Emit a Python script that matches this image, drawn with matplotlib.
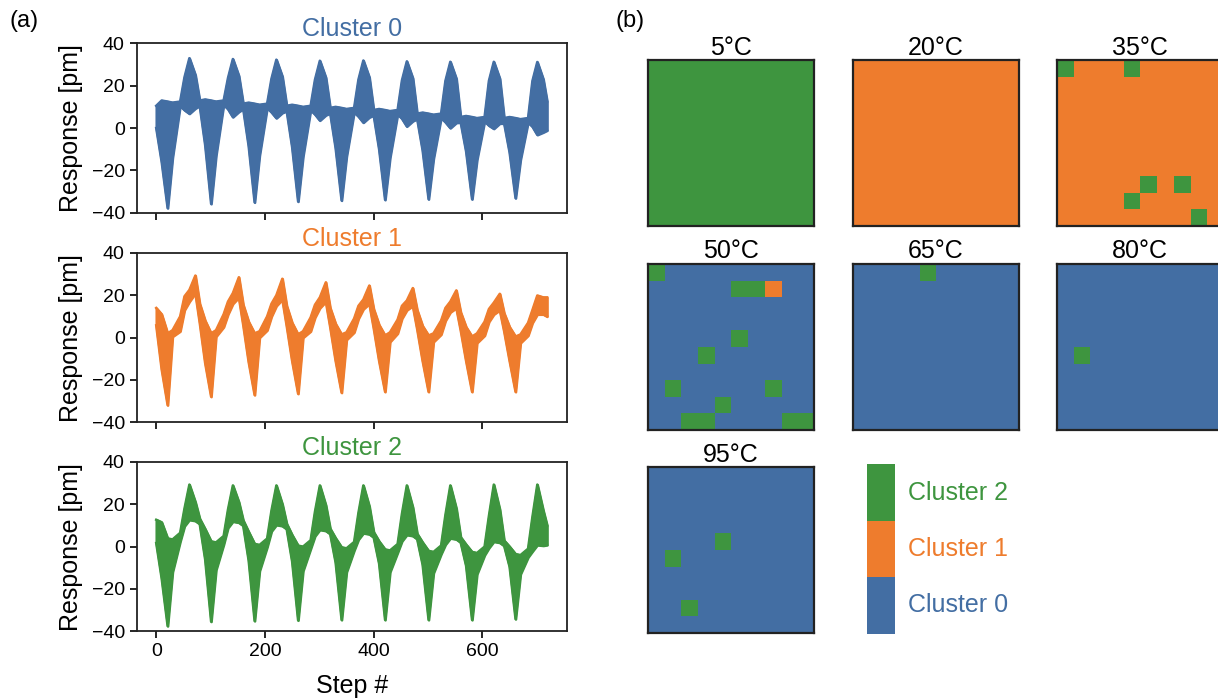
import numpy as np
import matplotlib
matplotlib.use("Agg")
import matplotlib.pyplot as plt
from matplotlib.colors import ListedColormap

plt.rcParams['font.family'] = ['Liberation Sans', 'DejaVu Sans']

C0 = '#436ea3'
C1 = '#ee7c2d'
C2 = '#3e953f'
colors = [C0, C1, C2]

# key steps of the response envelope
steps = [0, 10, 21, 30, 44, 52, 61, 72,
         80, 90, 101, 110, 124, 132, 141, 152,
         160, 170, 181, 190, 204, 212, 221, 232,
         240, 250, 261, 270, 284, 292, 301, 312,
         320, 330, 341, 350, 364, 372, 381, 392,
         400, 410, 421, 430, 444, 452, 461, 472,
         480, 490, 501, 510, 524, 532, 541, 552,
         560, 570, 581, 590, 604, 612, 621, 632,
         640, 650, 661, 670, 684, 692, 701, 712,
         719]

c0_upper = [10.5, 13, 12.5, 12, 12.5, 24, 33, 25,
            13, 13.5, 13, 12.5, 13, 23.6, 32.6, 24.6,
            11.5, 12, 11.5, 11, 11.5, 23.3, 32.3, 24.3,
            10.5, 11, 10.5, 10, 10.5, 22.8, 31.8, 23.8,
            9.5, 10, 9.5, 9, 9.5, 22.9, 31.9, 23.9,
            8.5, 9, 8.5, 8, 8.5, 22.5, 31.5, 23.5,
            6.8, 7.3, 6.8, 6.3, 6.8, 22.3, 31.3, 23.3,
            5.2, 5.7, 5.2, 4.7, 5.2, 22.3, 31.3, 23.3,
            4.7, 5.2, 4.7, 4.2, 4.7, 22.2, 31.2, 23,
            12.6]
c0_lower = [0, -16, -37.8, -14, 10.5, 8.5, 6.8, 9.3,
            10.5, -8, -35.8, -13, 11, 9, 5.2, 7.7,
            9, -8.5, -35.1, -13, 9.5, 7.5, 4.7, 7.2,
            8, -9, -34.7, -13.5, 8.5, 6.5, 3.6, 6.1,
            7, -9.5, -34.2, -13.5, 7.5, 5.5, 2.6, 5.1,
            6, -10, -33.9, -14, 6.5, 4.5, 0.8, 3.3,
            4.3, -10.5, -33.6, -14.5, 4.8, 2.8, 0, 2.5,
            2.7, -11, -33.6, -15, 3.2, 1.2, -0.3, 2.2,
            2.2, -11.5, -33.1, -15, 2.7, 0.7, -3.2, -2,
            -1.1]

c1_upper = [14, 11, 2, 3.5, 10, 19.5, 22.5, 29.3,
            16, 8, 2, 3.5, 11, 17, 21, 28.5,
            15.5, 7.5, 2, 3, 10, 16, 20, 27.8,
            15, 7, 1.5, 3, 9.5, 15.5, 19, 26.1,
            14, 6.5, 1.5, 2.5, 9, 15, 18, 24.6,
            13.5, 6, 1, 2.5, 8.5, 15, 17.5, 23.4,
            13, 5.5, 1, 2, 8, 14, 17, 22.3,
            12, 5, 0.5, 2, 7.5, 13.5, 16.5, 20.7,
            11.5, 5, 0.5, 1.5, 7, 13, 19.9, 19,
            19]
c1_lower = [5.8, -15, -31.9, 0.5, 3, 13, 17, 21,
            7, -12, -27.9, 0.5, 5, 11, 16, 19,
            6, -11.5, -27.1, 0, 3.5, 10, 15, 18,
            5.5, -11, -26.5, 0, 3, 9.5, 14, 17,
            5, -11, -26, -1, 2.5, 9, 13.5, 16,
            4.5, -11, -25.6, -2, 2, 9, 13, 15,
            4, -11, -25.6, -2, 1.5, 8, 12, 14,
            3.5, -11, -25.6, -2.5, 1, 7.5, 11, 13,
            3, -11, -25.6, -2.5, 1, 7, 11, 11,
            10]

c2_upper = [12.7, 11.5, 3.9, 3.4, 6.5, 18, 29.3, 21,
            13.2, 8.3, 2.5, 2, 5, 17.5, 28.9, 21,
            12.4, 7, 1.3, 0.8, 3.8, 17, 28.9, 20,
            10.8, 5.5, 0.5, 0, 3, 16.5, 28.9, 19.5,
            8.5, 4, -0.3, -0.8, 2.2, 16, 28.9, 19,
            6.9, 2.5, -1.3, -1.8, 1.2, 15.5, 28.9, 18.5,
            6.1, 2, -2, -2.5, 0.5, 15, 28.9, 18,
            4.5, 1, -2.5, -3, 0, 14.5, 29.3, 17.5,
            2.9, 0, -3.5, -4, -1, 14, 29.3, 17,
            10]
c2_lower = [1.7, -15, -37.5, -12, 2.4, 9.7, 12.7, 12.2,
            10.7, -6, -35.4, -11, 1, 8.9, 11.9, 11.4,
            9.9, -6.5, -35.1, -11.5, -0.2, 7.3, 10.3, 9.8,
            8.3, -7, -34.8, -11.5, -1, 5, 8, 7.5,
            6, -7.5, -34.6, -12, -1.8, 3.4, 6.4, 5.9,
            4.4, -8, -34.6, -12, -2.8, 2.6, 5.6, 5.1,
            3.6, -8.5, -34.6, -12.5, -3.5, 1, 4, 3.5,
            2, -9, -34.6, -13, -4, -0.6, 2.4, 1.9,
            0.4, -9.5, -34.2, -13, -5, -2.2, 0.8, 0.5,
            0.8]

uppers = [c0_upper, c1_upper, c2_upper]
lowers = [c0_lower, c1_lower, c2_lower]

# cluster maps: background cluster plus (row, col, cluster) cells
map_titles = ['5°C', '20°C', '35°C', '50°C', '65°C', '80°C', '95°C']
map_background = [2, 1, 1, 0, 0, 0, 0]
map_cells = [
    [],
    [],
    [(0, 0, 2), (0, 4, 2), (7, 5, 2), (7, 7, 2), (8, 4, 2), (9, 8, 2)],
    [(0, 0, 2), (1, 5, 2), (1, 6, 2), (1, 7, 1), (4, 5, 2), (5, 3, 2),
     (7, 1, 2), (7, 7, 2), (8, 4, 2), (9, 2, 2), (9, 3, 2), (9, 8, 2), (9, 9, 2)],
    [(0, 4, 2)],
    [(5, 1, 2)],
    [(4, 4, 2), (5, 1, 2), (8, 2, 2)],
]

fig = plt.figure(figsize=(12.18, 7), dpi=100)

# ---- (a) responses ----
bottoms = [0.6961, 0.3967, 0.0981]
for i in range(3):
    ax = fig.add_axes([0.1122, bottoms[i], 0.3530, 0.2420])
    ax.fill_between(steps, lowers[i], uppers[i], color=colors[i], lw=1.8)
    ax.plot(steps, uppers[i], color=colors[i], lw=1.8)
    ax.plot(steps, lowers[i], color=colors[i], lw=1.8)
    ax.set_ylim(-40, 40)
    ax.set_yticks([-40, -20, 0, 20, 40])
    ax.set_xticks([0, 200, 400, 600])
    ax.tick_params(direction='out', length=5, width=1.2, labelsize=14)
    for s in ax.spines.values():
        s.set_linewidth(1.3)
        s.set_color('#222222')
    ax.set_ylabel('Response [pm]', fontsize=18, labelpad=6)
    ax.set_title('Cluster %d' % i, color=colors[i], fontsize=18, pad=5)
    if i < 2:
        ax.set_xticklabels([])
    else:
        ax.set_xlabel('Step #', fontsize=18, labelpad=10)

fig.text(0.008, 0.985, '(a)', fontsize=17, va='top')
fig.text(0.505, 0.985, '(b)', fontsize=17, va='top')

# ---- (b) maps ----
cmap = ListedColormap(colors)
lefts = [0.5320, 0.7001, 0.8680]
map_bottoms = [0.6771, 0.3861, 0.0953]
for k in range(len(map_titles)):
    grid = np.full((10, 10), map_background[k])
    for r, c, v in map_cells[k]:
        grid[r, c] = v
    ax = fig.add_axes([lefts[k % 3], map_bottoms[k // 3], 0.1363, 0.2371])
    ax.imshow(grid, cmap=cmap, vmin=-0.5, vmax=2.5, interpolation='nearest', aspect='auto')
    ax.set_xticks([])
    ax.set_yticks([])
    for s in ax.spines.values():
        s.set_linewidth(1.6)
        s.set_color('#222222')
    ax.set_title(map_titles[k], fontsize=18, pad=4)

cax = fig.add_axes([0.7121, 0.0947, 0.0227, 0.242])
cax.imshow([[2], [1], [0]], cmap=cmap, vmin=-0.5, vmax=2.5, aspect='auto')
cax.axis('off')
for i in range(3):
    cax.text(1.46, (2 * i + 1) / 6, 'Cluster %d' % i, transform=cax.transAxes,
             va='center', ha='left', color=colors[i], fontsize=18)

fig.savefig('out.png', dpi=100)
